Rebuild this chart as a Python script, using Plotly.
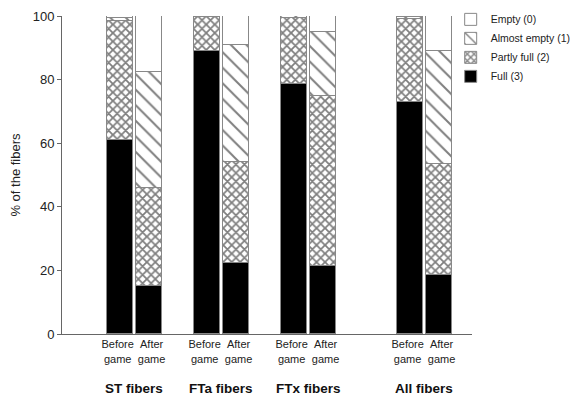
import plotly.graph_objects as go

positions = [0, 1, 3, 4, 6, 7, 10, 11]
tick_labels = ["Before<br>game", "After<br>game"] * 4
groups = ["ST fibers", "FTa fibers", "FTx fibers", "All fibers"]
group_centers = [0.5, 3.5, 6.5, 10.5]

full =   [61.0, 15.0, 89.0, 22.3, 78.5, 21.4, 73.0, 18.6]
partly = [37.5, 31.0, 10.7, 31.7, 21.0, 53.5, 26.0, 34.9]
almost = [1.0, 36.5, 0.3, 37.0, 0.5, 20.1, 0.7, 35.5]
empty =  [0.5, 17.5, 0.0, 9.0, 0.0, 5.0, 0.3, 11.0]

series = [
    ("Full (3)", full, dict(color="black")),
    ("Partly full (2)", partly, dict(color="white", pattern=dict(shape="x", fgcolor="#000", bgcolor="white", size=6, solidity=0.5))),
    ("Almost empty (1)", almost, dict(color="white", pattern=dict(shape="\\", fgcolor="#000", bgcolor="white", size=11, solidity=0.18))),
    ("Empty (0)", empty, dict(color="white")),
]

fig = go.Figure()
for name, vals, m in series:
    fig.add_trace(go.Bar(
        x=positions, y=vals, name=name, width=0.9,
        marker=dict(**m, line=dict(color="#888", width=1)),
    ))

for g, c in zip(groups, group_centers):
    fig.add_annotation(x=c, y=-0.17, xref="x", yref="paper", text="<b>%s</b>" % g,
                       showarrow=False, font=dict(size=13.5, color="#111"), yanchor="middle")

# labels sit slightly outward from the bar centres, as in the original
tick_pos = [p - 0.08 if i % 2 == 0 else p + 0.09 for i, p in enumerate(positions)]

W, H = 571, 390
fig.update_layout(
    width=W, height=H,
    margin=dict(l=54, r=W - 464, t=8, b=H - 326, autoexpand=False),
    barmode="stack", bargap=0,
    plot_bgcolor="white", paper_bgcolor="white",
    font=dict(family="Liberation Sans, Arial, sans-serif", color="#222"),
    legend=dict(x=0.948, y=1.035, xanchor="left", yanchor="top", traceorder="reversed",
                font=dict(size=10.5), bgcolor="rgba(0,0,0,0)", tracegroupgap=0),
    showlegend=True,
)
fig.update_xaxes(range=[-2, 12.14], tickvals=tick_pos, ticktext=tick_labels,
                 showline=True, linecolor="#666", linewidth=1, ticks="",
                 showgrid=False, zeroline=False, tickfont=dict(size=11),
                 tickangle=0, automargin=False)
fig.update_yaxes(range=[0, 100], tickvals=[0, 20, 40, 60, 80, 100],
                 showline=True, linecolor="#666", linewidth=1, ticks="outside",
                 ticklen=4, tickcolor="#666", showgrid=False, zeroline=False,
                 tickfont=dict(size=13), automargin=False,
                 title=dict(text="% of the fibers", font=dict(size=13), standoff=15))

fig.write_html("out.html")
